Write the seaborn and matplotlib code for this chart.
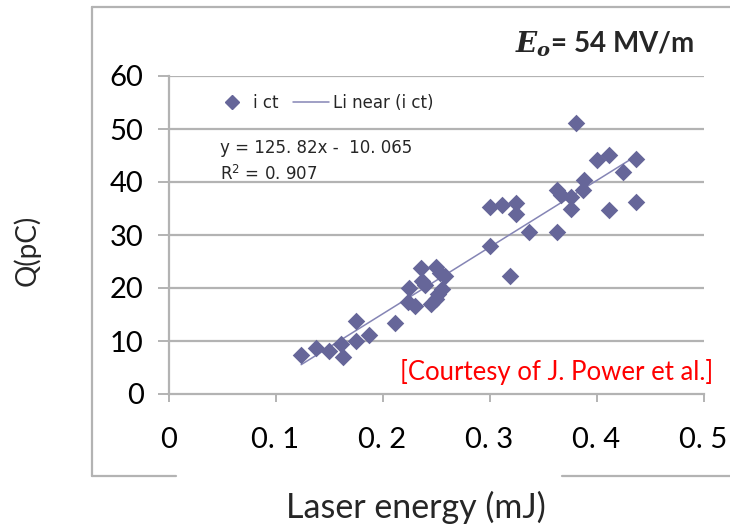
import matplotlib
matplotlib.use("Agg")
import matplotlib.pyplot as plt
from matplotlib.lines import Line2D
import seaborn as sns
import numpy as np
import pandas as pd

# ---- data ----
energy = [0.124, 0.138, 0.150, 0.161, 0.163, 0.175, 0.175, 0.187, 0.212,
          0.224, 0.225, 0.230, 0.236, 0.237, 0.240, 0.245, 0.250, 0.250, 0.252, 0.254, 0.256, 0.258,
          0.300, 0.300, 0.312, 0.319, 0.325, 0.325, 0.337, 0.363, 0.363, 0.367, 0.376, 0.376,
          0.381, 0.387, 0.388, 0.400, 0.412, 0.412, 0.425, 0.437, 0.437]
charge = [7.4, 8.6, 8.1, 9.4, 6.9, 13.7, 10.0, 11.2, 13.4,
          17.4, 20.0, 16.6, 23.8, 21.3, 20.5, 17.0, 18.0, 23.9, 18.8, 22.8, 19.9, 22.3,
          28.0, 35.2, 35.6, 22.3, 36.1, 34.0, 30.5, 30.5, 38.5, 37.5, 37.2, 35.0,
          51.2, 38.5, 40.4, 44.2, 45.1, 34.7, 41.8, 44.3, 36.2]
slope = 125.82
intercept = -10.065
r_squared = 0.907
x_ticks = [0, 0.1, 0.2, 0.3, 0.4, 0.5]
x_tick_labels = ["0", "0. 1", "0. 2", "0. 3", "0. 4", "0. 5"]
y_ticks = [0, 10, 20, 30, 40, 50, 60]
y_tick_labels = ["0", "10", "20", "30", "40", "50", "60"]

df = pd.DataFrame({"energy": energy, "charge": charge})
xfit = np.array([min(energy), max(energy)])
fit_df = pd.DataFrame({"energy": xfit, "charge": slope * xfit + intercept})

# ---- style ----
sns.set_theme(style="white")
plt.rcParams["font.family"] = ["Lato", "DejaVu Sans"]
plt.rcParams["mathtext.fontset"] = "custom"
plt.rcParams["mathtext.it"] = "DejaVu Serif:italic:bold"
plt.rcParams["mathtext.rm"] = "DejaVu Serif:bold"

W, H = 730, 527
fig = plt.figure(figsize=(W / 100, H / 100), dpi=100)
fig.patch.set_facecolor("white")

def fx(px):
    return px / W

def fy(py):
    return 1 - py / H

ax = fig.add_axes([fx(168.5), fy(394), fx(703.5) - fx(168.5), fy(76) - fy(394)])
ax.set_facecolor("white")

mark_col = "#666699"
line_col = "#8585b5"
grid_col = "#b3b3b3"

# gridlines
for yv in y_ticks[1:]:
    ax.axhline(yv, color=grid_col, lw=1.6, zorder=0)

sns.lineplot(data=fit_df, x="energy", y="charge", ax=ax, color=line_col, lw=1.1, zorder=2)
sns.scatterplot(data=df, x="energy", y="charge", ax=ax, marker="D", s=80,
                color=mark_col, edgecolor=mark_col, linewidth=0, zorder=3)

ax.set_xlim(0, 0.5)
ax.set_ylim(0, 60)
ax.set_xticks(x_ticks)
ax.set_xticklabels(x_tick_labels, fontsize=21)
ax.set_yticks(y_ticks)
ax.set_yticklabels(y_tick_labels, fontsize=21)
ax.set_xlabel("")
ax.set_ylabel("")
for s in ["top", "right"]:
    ax.spines[s].set_visible(False)
for s in ["left", "bottom"]:
    ax.spines[s].set_color(grid_col)
    ax.spines[s].set_linewidth(1.6)
ax.tick_params(axis="both", direction="out", width=1.4, color=grid_col,
               labelcolor="black", left=True, bottom=True)
ax.tick_params(axis="y", length=8, pad=10)
ax.tick_params(axis="x", length=5.5, pad=18)

# legend (two parts, like the spreadsheet legend)
leg_y = fy(103)
leg1 = fig.legend([Line2D([], [], marker="D", color=mark_col, ls="none", markersize=7)],
                  ["i ct"], loc="center left", bbox_to_anchor=(fx(223.5), leg_y),
                  bbox_transform=fig.transFigure, frameon=False, handlelength=1.0,
                  handletextpad=0.75, borderpad=0, borderaxespad=0,
                  prop={"family": ["DejaVu Sans"], "size": 12})
leg2 = fig.legend([Line2D([], [], color=line_col, lw=1.1)],
                  ["Li near (i ct)"], loc="center left", bbox_to_anchor=(fx(293), leg_y),
                  bbox_transform=fig.transFigure, frameon=False, handlelength=2.15,
                  handletextpad=0.25, borderpad=0, borderaxespad=0,
                  prop={"family": ["DejaVu Sans"], "size": 12})

# equation
fig.text(fx(220), fy(148), "y = 125. 82x -  10. 065", fontsize=12, family="DejaVu Sans",
         va="center", ha="left")
fig.text(fx(220), fy(174), r"R$^{\mathsf{2}}$ = 0. 907", fontsize=12, family="DejaVu Sans",
         va="center", ha="left")

# title
fig.text(fx(694), fy(44), r"$\mathit{E_o}$= 54 MV/m", fontsize=20, fontweight="bold",
         ha="right", va="center")

# courtesy
fig.text(fx(713), fy(372), "[Courtesy of J. Power et al.]", fontsize=18.5, color="red",
         ha="right", va="center")

# axis labels
fig.text(fx(27), fy(250), "Q(pC)", fontsize=20, rotation=90, ha="center", va="center")
fig.text(fx(416), fy(507), "Laser energy (mJ)", fontsize=24.5, ha="center", va="center")

# outer frame
frame_col = "#b3b3b3"
fig.add_artist(Line2D([fx(92), fx(92)], [fy(7), fy(476)], color=frame_col, lw=1.6))
fig.add_artist(Line2D([fx(92), fx(730)], [fy(7), fy(7)], color=frame_col, lw=1.6))
fig.add_artist(Line2D([fx(92), fx(176)], [fy(476), fy(476)], color=frame_col, lw=1.6))
fig.add_artist(Line2D([fx(562), fx(730)], [fy(476), fy(476)], color=frame_col, lw=1.6))

fig.savefig("out.png", dpi=100)
